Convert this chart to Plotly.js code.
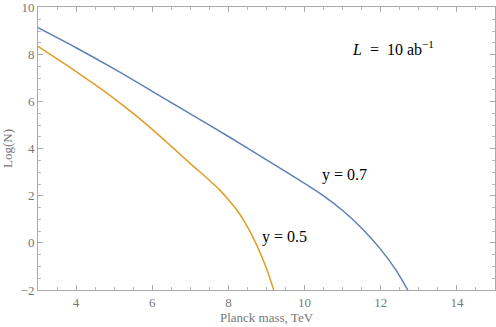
<!DOCTYPE html>
<html>
<head>
<meta charset="utf-8">
<script src="https://cdn.plot.ly/plotly-3.0.1.min.js"></script>
<style>html,body{margin:0;padding:0;background:#fff}#chart{width:496px;height:327px}</style>
</head>
<body>
<div id="chart"></div>
<script>
// Planck mass, TeV
var massY07 = [3, 4, 5, 6, 7, 8, 9, 10, 10.5, 11, 11.5, 12, 12.4, 12.71];
var logNY07 = [9.14, 8.29, 7.39, 6.44, 5.48, 4.52, 3.53, 2.53, 2.0, 1.375, 0.625, -0.275, -1.155, -2.0];
var massY05 = [3, 3.5, 4, 4.5, 5, 5.5, 6, 6.5, 7, 7.5, 7.75, 8, 8.25, 8.5, 8.75, 9.0, 9.19];
var logNY05 = [8.35, 7.82, 7.28, 6.72, 6.13, 5.5, 4.82, 4.1, 3.37, 2.66, 2.285, 1.835, 1.335, 0.685, -0.115, -1.09, -2.0];
var yTickVals = [-2, 0, 2, 4, 6, 8, 10];
var xTickVals = [4, 6, 8, 10, 12, 14];
var curveLabels = ['y = 0.7', 'y = 0.5'];
var lumiLabel = '<i>L</i>  =  10 ab<sup>\u22121</sup>';

var serif = 'Liberation Serif, Times New Roman, serif';
var traces = [
  {x: massY07, y: logNY07, mode: 'lines', line: {color: '#5E81B5', width: 1.5, shape: 'spline', smoothing: 0.7}, hoverinfo: 'none'},
  {x: massY05, y: logNY05, mode: 'lines', line: {color: '#E19C24', width: 1.5, shape: 'spline', smoothing: 0.7}, hoverinfo: 'none'}
];
var axisCommon = {
  showgrid: false, zeroline: false, showline: true, linecolor: '#aaaaaa', linewidth: 1,
  mirror: 'allticks', ticks: 'inside', ticklen: 5, tickcolor: '#aaaaaa', tickwidth: 1,
  tickfont: {family: serif, size: 13, color: '#777777'},
  tickmode: 'array',
  minor: {ticks: 'inside', ticklen: 3, tickcolor: '#bbbbbb', tickmode: 'linear', tick0: 0, dtick: 0.5, showgrid: false}
};
var layout = {
  width: 496, height: 327,
  margin: {l: 38, r: 1, t: 7, b: 37},
  paper_bgcolor: '#ffffff', plot_bgcolor: '#ffffff',
  showlegend: false,
  xaxis: Object.assign({}, axisCommon, {range: [3, 15], tickvals: xTickVals,
    title: {text: 'Planck mass, TeV', font: {family: serif, size: 13, color: '#777777'}, standoff: 2}}),
  yaxis: Object.assign({}, axisCommon, {range: [-2, 10.02], tickvals: yTickVals, ticklabeloverflow: 'allow',
    title: {text: 'Log(N)', font: {family: serif, size: 13, color: '#777777'}, standoff: 6}}),
  annotations: [
    {x: 11.2, y: 8.26, xref: 'x', yref: 'y', xanchor: 'left', text: lumiLabel, showarrow: false, font: {family: serif, size: 16, color: '#000'}},
    {x: 10.41, y: 2.88, xref: 'x', yref: 'y', xanchor: 'left', text: curveLabels[0], showarrow: false, font: {family: serif, size: 16, color: '#000'}},
    {x: 8.84, y: 0.26, xref: 'x', yref: 'y', xanchor: 'left', text: curveLabels[1], showarrow: false, font: {family: serif, size: 16, color: '#000'}}
  ]
};
Plotly.newPlot('chart', traces, layout, {staticPlot: true, displayModeBar: false});
</script>
</body>
</html>
